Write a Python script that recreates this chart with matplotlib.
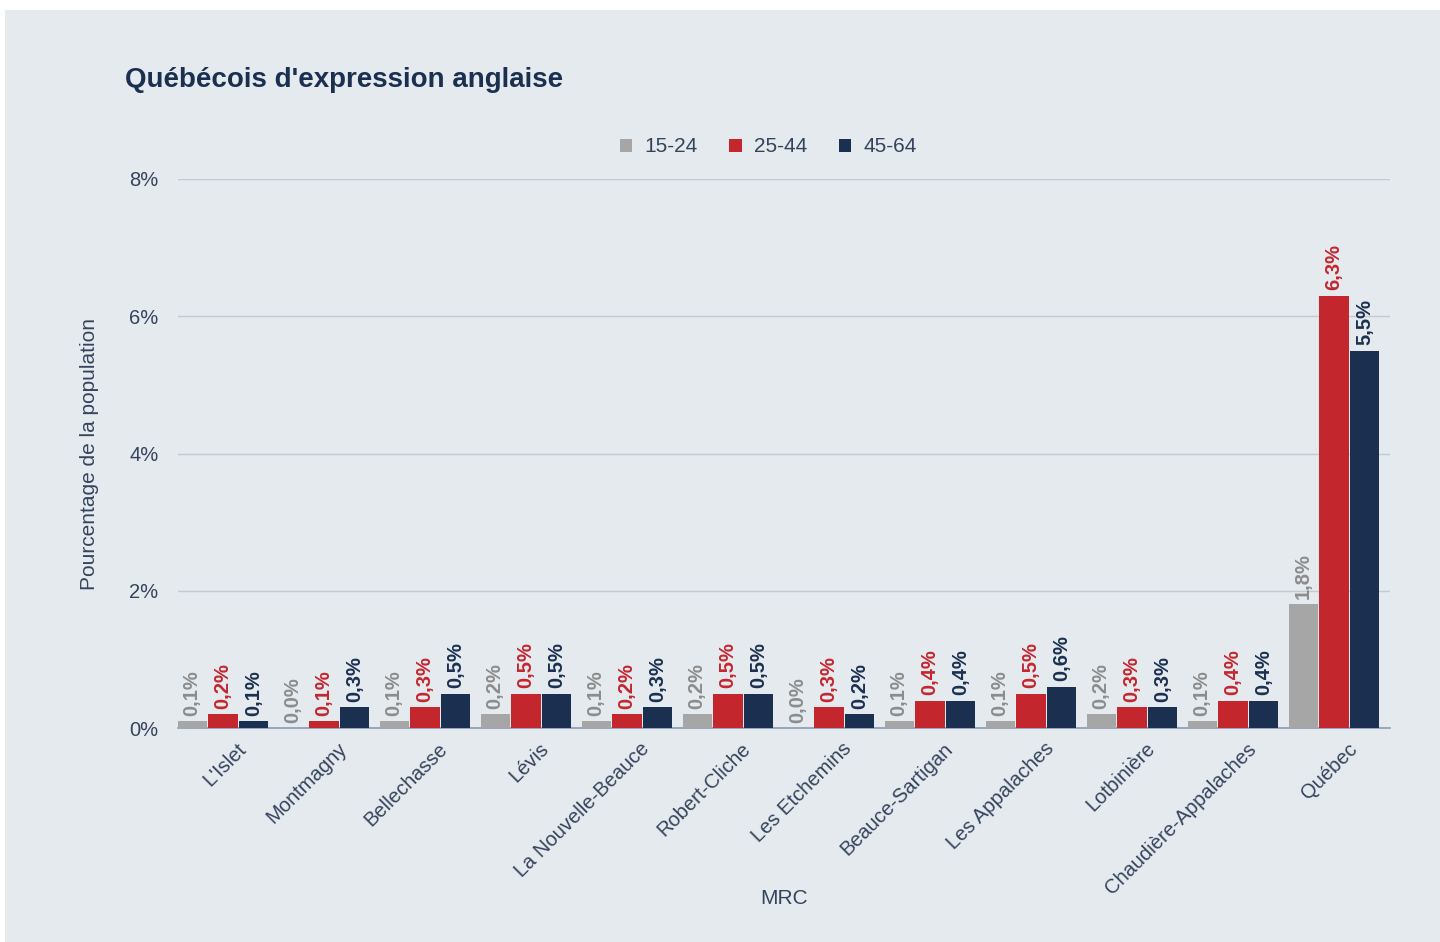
import numpy as np
import matplotlib.pyplot as plt
from matplotlib.patches import Rectangle

plt.rcParams['font.family'] = ['Liberation Sans', 'DejaVu Sans']

# données
mrc = ["L'Islet", "Montmagny", "Bellechasse", "Lévis", "La Nouvelle-Beauce",
       "Robert-Cliche", "Les Etchemins", "Beauce-Sartigan", "Les Appalaches",
       "Lotbinière", "Chaudière-Appalaches", "Québec"]
age_15_24 = [0.1, 0.0, 0.1, 0.2, 0.1, 0.2, 0.0, 0.1, 0.1, 0.2, 0.1, 1.8]
age_25_44 = [0.2, 0.1, 0.3, 0.5, 0.2, 0.5, 0.3, 0.4, 0.5, 0.3, 0.4, 6.3]
age_45_64 = [0.1, 0.3, 0.5, 0.5, 0.3, 0.5, 0.2, 0.4, 0.6, 0.3, 0.4, 5.5]
series_names = ["15-24", "25-44", "45-64"]

bg = '#e5eaef'
navy = '#1b3050'
colors = ['#a6a6a6', '#c4262e', '#1b3050']
label_colors = ['#8c8c8c', '#c4262e', '#1b3050']
text_col = '#34445c'

fig = plt.figure(figsize=(14.4, 9.42), dpi=100)
fig.patch.set_facecolor('white')
# panneau de fond
fig.patches.append(Rectangle((5 / 1440, 0), 1 - 5 / 1440, 1 - 10 / 942,
                             transform=fig.transFigure, facecolor=bg,
                             edgecolor='none', zorder=-10))

ax = fig.add_axes([178 / 1440, 1 - 728 / 942, (1390 - 178) / 1440, (728 - 179) / 942])
ax.set_facecolor(bg)

x = np.arange(len(mrc))
w = 0.29
offsets = [-0.305, 0, 0.305]
data = [age_15_24, age_25_44, age_45_64]

for k in range(3):
    bars = ax.bar(x + offsets[k], data[k], width=w, color=colors[k],
                  label=series_names[k], zorder=3)
    for xi, v in zip(x + offsets[k], data[k]):
        ax.text(xi, v + 0.08, ("%.1f" % v).replace('.', ',') + '%',
                rotation=90, ha='center', va='bottom', fontsize=14.5,
                fontweight='bold', color=label_colors[k])

ax.set_xlim(-0.446, 11.554)
ax.set_ylim(0, 8)
ax.set_yticks([0, 2, 4, 6, 8])
ax.set_yticklabels(['0%', '2%', '4%', '6%', '8%'])
ax.yaxis.grid(True, color='#c3cad4', linewidth=1)
ax.set_axisbelow(True)

# étiquettes un peu décalées à droite (les ticks sont invisibles)
ax.set_xticks(x + 0.13)
ax.set_xticklabels(mrc, rotation=45, ha='right', rotation_mode='anchor')

for s in ['top', 'right', 'left']:
    ax.spines[s].set_visible(False)
ax.spines['bottom'].set_color('#8a9bb2')
ax.spines['bottom'].set_linewidth(1.2)
ax.tick_params(axis='both', length=0, labelsize=14.5, colors=text_col, pad=14)
ax.tick_params(axis='x', pad=8)

ax.set_ylabel('Pourcentage de la population', fontsize=15, color=text_col, labelpad=22)
ax.set_xlabel('MRC', fontsize=15, color=text_col, labelpad=-6)

fig.text(125 / 1440, 1 - 80 / 942, "Québécois d'expression anglaise",
         fontsize=20, fontweight='bold', color=navy, va='center', ha='left')

leg = ax.legend(loc='center', bbox_to_anchor=(0.487, 1 + 32 / 549), ncol=3,
                frameon=False, fontsize=15, handlelength=0.6, handleheight=0.6,
                handletextpad=0.6, columnspacing=1.5)
for t in leg.get_texts():
    t.set_color(text_col)

fig.savefig('out.png', dpi=100, facecolor=fig.get_facecolor())
